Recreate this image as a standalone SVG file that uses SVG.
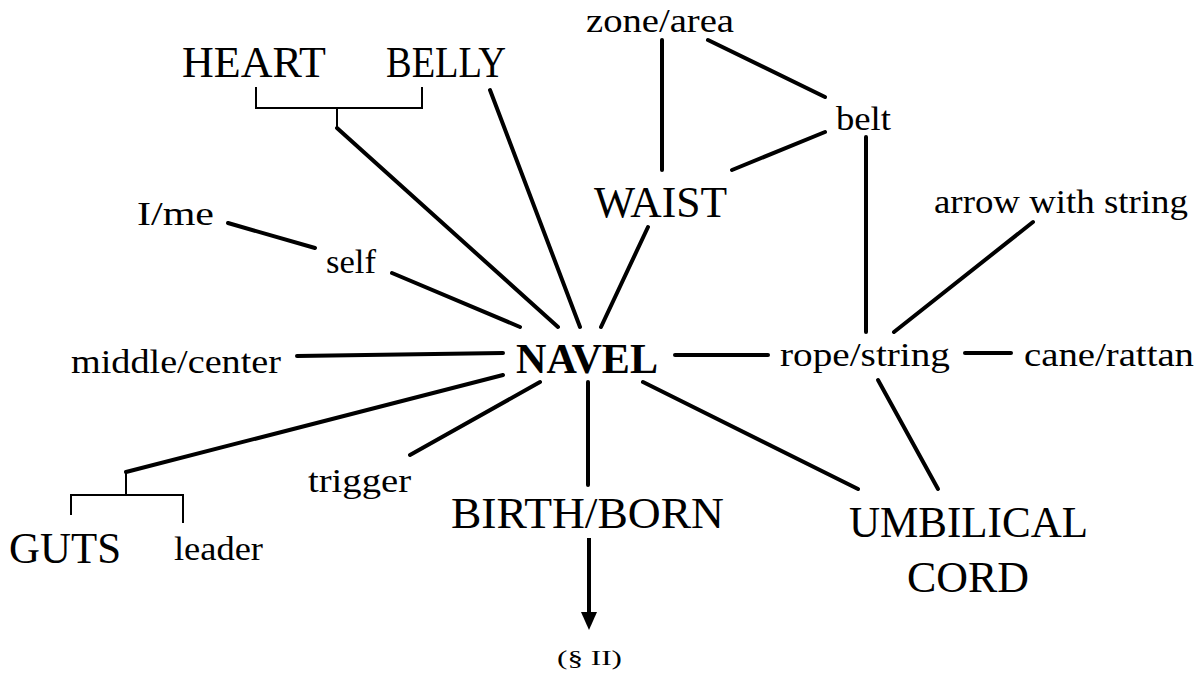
<svg xmlns="http://www.w3.org/2000/svg" width="1202" height="676" viewBox="0 0 1202 676">
  <style>
    text { font-family: "Liberation Serif", "DejaVu Serif", serif; fill: #000; }
    .big { font-size: 44px; }
    .small { font-size: 33px; }
    .hub { font-size: 43px; font-weight: bold; }
    .note { font-size: 22px; }
    .link { stroke: #000; stroke-width: 4; stroke-linecap: round; fill: none; }
    .brace { stroke: #000; stroke-width: 2; fill: none; }
  </style>
  <defs>
    <!-- solid triangular head, drawn along +x so orient="auto" follows the line -->
    <marker id="arrowhead" markerWidth="18" markerHeight="16" refX="0" refY="8" orient="auto" markerUnits="userSpaceOnUse" viewBox="0 0 18 16">
      <path d="M0,0 L18,8 L0,16 Z" fill="#000"/>
    </marker>
  </defs>
  <rect width="1202" height="676" fill="#fff"/>

  <!-- connectors -->
  <g id="connectors">
    <!-- HEART / BELLY grouping bracket -->
    <path class="brace" d="M256,87 V108 H422 V87"/>
    <path class="brace" d="M337,108 V128"/>
    <line class="link" x1="337" y1="128" x2="558" y2="327"/>
    <line class="link" x1="490" y1="90" x2="580" y2="327"/>
    <!-- waist cluster -->
    <line class="link" x1="662" y1="40" x2="662" y2="170"/>
    <line class="link" x1="708" y1="40" x2="825" y2="97"/>
    <line class="link" x1="825" y1="132" x2="732" y2="170"/>
    <line class="link" x1="648" y1="227" x2="601" y2="327"/>
    <line class="link" x1="866" y1="137" x2="866" y2="332"/>
    <!-- self chain -->
    <line class="link" x1="228" y1="223" x2="315" y2="248"/>
    <line class="link" x1="392" y1="273" x2="520" y2="327"/>
    <line class="link" x1="297" y1="356" x2="503" y2="353"/>
    <!-- rope / string cluster -->
    <line class="link" x1="675" y1="355" x2="768" y2="355"/>
    <line class="link" x1="965" y1="353" x2="1011" y2="353"/>
    <line class="link" x1="1033" y1="222" x2="894" y2="332"/>
    <line class="link" x1="878" y1="380" x2="938" y2="489"/>
    <line class="link" x1="643" y1="382" x2="858" y2="489"/>
    <!-- lower branches -->
    <line class="link" x1="503" y1="375" x2="126" y2="472"/>
    <path class="brace" d="M126,473 V495"/>
    <path class="brace" d="M71,515 V495 H183 V523"/>
    <line class="link" x1="540" y1="382" x2="410" y2="455"/>
    <line class="link" x1="588" y1="382" x2="588" y2="485"/>
    <line stroke="#000" stroke-width="4" x1="589" y1="538" x2="589" y2="612" marker-end="url(#arrowhead)"/>
  </g>

  <!-- nodes -->
  <g id="node-navel"><text class="hub" x="516" y="373" textLength="142" lengthAdjust="spacingAndGlyphs">NAVEL</text></g>
  <g id="node-heart"><text class="big" x="182" y="77" textLength="144" lengthAdjust="spacingAndGlyphs">HEART</text></g>
  <g id="node-belly"><text class="big" x="386" y="77" textLength="120" lengthAdjust="spacingAndGlyphs">BELLY</text></g>
  <g id="node-zone"><text class="small" x="586" y="32" textLength="148" lengthAdjust="spacingAndGlyphs">zone/area</text></g>
  <g id="node-belt"><text class="small" x="836" y="130" textLength="55" lengthAdjust="spacingAndGlyphs">belt</text></g>
  <g id="node-waist"><text class="big" x="594" y="217" textLength="133" lengthAdjust="spacingAndGlyphs">WAIST</text></g>
  <g id="node-arrow"><text class="small" x="934" y="213" textLength="254" lengthAdjust="spacingAndGlyphs">arrow with string</text></g>
  <g id="node-ime"><text class="small" x="137" y="225" textLength="77" lengthAdjust="spacingAndGlyphs">I/me</text></g>
  <g id="node-self"><text class="small" x="326" y="273" textLength="50" lengthAdjust="spacingAndGlyphs">self</text></g>
  <g id="node-middle"><text class="small" x="71" y="373" textLength="210" lengthAdjust="spacingAndGlyphs">middle/center</text></g>
  <g id="node-rope"><text class="small" x="780" y="366" textLength="170" lengthAdjust="spacingAndGlyphs">rope/string</text></g>
  <g id="node-cane"><text class="small" x="1024" y="366" textLength="170" lengthAdjust="spacingAndGlyphs">cane/rattan</text></g>
  <g id="node-trigger"><text class="small" x="308" y="492" textLength="103" lengthAdjust="spacingAndGlyphs">trigger</text></g>
  <g id="node-guts"><text class="big" x="9" y="563" textLength="112" lengthAdjust="spacingAndGlyphs">GUTS</text></g>
  <g id="node-leader"><text class="small" x="174" y="560" textLength="89" lengthAdjust="spacingAndGlyphs">leader</text></g>
  <g id="node-birth"><text class="big" x="451" y="528" textLength="273" lengthAdjust="spacingAndGlyphs">BIRTH/BORN</text></g>
  <g id="node-umbilical">
    <text class="big" x="849" y="537" textLength="239" lengthAdjust="spacingAndGlyphs">UMBILICAL</text>
    <text class="big" x="907" y="592" textLength="122" lengthAdjust="spacingAndGlyphs">CORD</text>
  </g>
  <g id="node-section"><text class="note" x="557" y="665" textLength="65" lengthAdjust="spacingAndGlyphs">(§ II)</text></g>
</svg>
